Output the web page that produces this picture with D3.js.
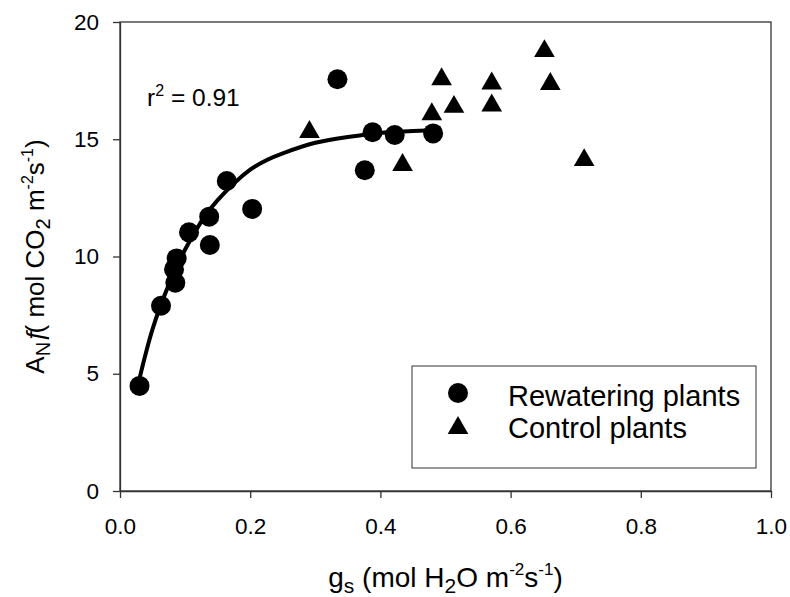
<!DOCTYPE html>
<html>
<head>
<meta charset="utf-8">
<script src="https://cdn.jsdelivr.net/npm/d3@7"></script>
<style>
  body { margin: 0; background: #fff; }
  svg { font-family: "Liberation Sans", Arial, sans-serif; }
</style>
</head>
<body>
<svg id="chart"></svg>
<script>
// Rewatering plants (circles)
var rewateringGs = [0.030, 0.063, 0.085, 0.083, 0.087, 0.106, 0.137, 0.138, 0.164, 0.203, 0.334, 0.376, 0.388, 0.422, 0.481];
var rewateringAn = [4.48, 7.90, 8.88, 9.45, 9.92, 11.03, 11.70, 10.49, 13.22, 12.03, 17.56, 13.68, 15.30, 15.18, 15.25];

// Control plants (triangles)
var controlGs = [0.291, 0.434, 0.479, 0.494, 0.513, 0.571, 0.571, 0.652, 0.661, 0.713];
var controlAn = [15.31, 13.90, 16.07, 17.56, 16.38, 17.38, 16.44, 18.76, 17.36, 14.11];

// Fitted curve
var fitGs = [0.030, 0.050, 0.075, 0.100, 0.125, 0.150, 0.200, 0.250, 0.300, 0.350, 0.400, 0.450, 0.481];
var fitAn = [4.8, 6.9, 8.8, 10.3, 11.5, 12.4, 13.7, 14.4, 14.85, 15.1, 15.27, 15.35, 15.38];

var xTicks = [0, 0.2, 0.4, 0.6, 0.8, 1.0];
var yTicks = [0, 5, 10, 15, 20];
var legendLabels = ["Rewatering plants", "Control plants"];
var r2Label = "0.91";

var width = 790, height = 597;
var svg = d3.select("#chart").attr("width", width).attr("height", height);

var x = d3.scaleLinear().domain([0, 1]).range([120, 771]);
var y = d3.scaleLinear().domain([0, 20]).range([491, 22]);

// Frame (top and right sides)
svg.append("rect")
    .attr("x", x(0)).attr("y", y(20))
    .attr("width", x(1) - x(0)).attr("height", y(0) - y(20))
    .attr("fill", "none").attr("stroke", "#333").attr("stroke-width", 1.3);

// Axes
var xAxis = svg.append("g")
    .attr("transform", "translate(0," + y(0) + ")")
    .call(d3.axisBottom(x).tickValues(xTicks).tickFormat(d3.format(".1f"))
        .tickSize(7).tickSizeOuter(0).tickPadding(20));
var yAxis = svg.append("g")
    .attr("transform", "translate(" + x(0) + ",0)")
    .call(d3.axisLeft(y).tickValues(yTicks).tickFormat(d3.format("d"))
        .tickSize(7).tickSizeOuter(0).tickPadding(14));

[xAxis, yAxis].forEach(function(a) {
  a.selectAll("path, line").attr("stroke", "#333").attr("stroke-width", 1.3);
  a.selectAll("text").attr("fill", "#000").style("font-size", "22.5px")
      .style("font-family", "'Liberation Sans', Arial, sans-serif");
});

// Fitted curve
var line = d3.line()
    .x(function(d) { return x(d[0]); })
    .y(function(d) { return y(d[1]); })
    .curve(d3.curveNatural);

svg.append("path")
    .datum(d3.zip(fitGs, fitAn))
    .attr("d", line)
    .attr("fill", "none")
    .attr("stroke", "#000")
    .attr("stroke-width", 4);

// Points
var tri = d3.symbol().type(d3.symbolTriangle).size(185);

svg.selectAll(".rewater")
    .data(d3.zip(rewateringGs, rewateringAn))
  .enter().append("circle")
    .attr("cx", function(d) { return x(d[0]); })
    .attr("cy", function(d) { return y(d[1]); })
    .attr("r", 10)
    .attr("fill", "#000");

svg.selectAll(".control")
    .data(d3.zip(controlGs, controlAn))
  .enter().append("path")
    .attr("d", tri)
    .attr("transform", function(d) { return "translate(" + x(d[0]) + "," + y(d[1]) + ")"; })
    .attr("fill", "#000");

// r^2 annotation
var r2 = svg.append("text")
    .attr("x", 147).attr("y", 106)
    .style("font-size", "24.5px");
r2.append("tspan").text("r");
r2.append("tspan").attr("dy", -10).style("font-size", "16px").text("2");
r2.append("tspan").attr("dy", 10).text(" = " + r2Label);

// Legend
var legend = svg.append("g");
legend.append("rect")
    .attr("x", 412).attr("y", 366).attr("width", 344).attr("height", 102)
    .attr("fill", "#fff").attr("stroke", "#333").attr("stroke-width", 1);
legend.append("circle").attr("cx", 458).attr("cy", 393).attr("r", 10).attr("fill", "#000");
legend.append("path").attr("d", tri)
    .attr("transform", "translate(458,428)").attr("fill", "#000");
legend.selectAll(".lab")
    .data(legendLabels)
  .enter().append("text")
    .attr("x", 508)
    .attr("y", function(d, i) { return 406 + i * 32; })
    .style("font-size", "29px")
    .text(function(d) { return d; });

// X axis title
var xt = svg.append("text")
    .attr("x", (x(0) + x(1)) / 2).attr("y", 587)
    .attr("text-anchor", "middle")
    .style("font-size", "28px");
xt.append("tspan").text("g");
xt.append("tspan").attr("dy", 6).style("font-size", "21px").text("s");
xt.append("tspan").attr("dy", -6).text(" (mol H");
xt.append("tspan").attr("dy", 6).style("font-size", "21px").text("2");
xt.append("tspan").attr("dy", -6).text("O m");
xt.append("tspan").attr("dy", -12).style("font-size", "17px").text("-2");
xt.append("tspan").attr("dy", 12).text("s");
xt.append("tspan").attr("dy", -12).style("font-size", "17px").text("-1");
xt.append("tspan").attr("dy", 12).text(")");

// Y axis title
var yt = svg.append("text")
    .attr("transform", "translate(44," + (y(0) + y(20)) / 2 + ") rotate(-90)")
    .attr("text-anchor", "middle")
    .style("font-size", "26px");
yt.append("tspan").text("A");
yt.append("tspan").attr("dy", 6).style("font-size", "20px").text("N");
yt.append("tspan").attr("dy", -6).text("ƒ");
yt.append("tspan").attr("dx", -6).text("( mol CO");
yt.append("tspan").attr("dy", 6).style("font-size", "20px").text("2");
yt.append("tspan").attr("dy", -6).text(" m");
yt.append("tspan").attr("dy", -11).style("font-size", "16px").text("-2");
yt.append("tspan").attr("dy", 11).text("s");
yt.append("tspan").attr("dy", -11).style("font-size", "16px").text("-1");
yt.append("tspan").attr("dy", 11).text(")");
</script>
</body>
</html>
